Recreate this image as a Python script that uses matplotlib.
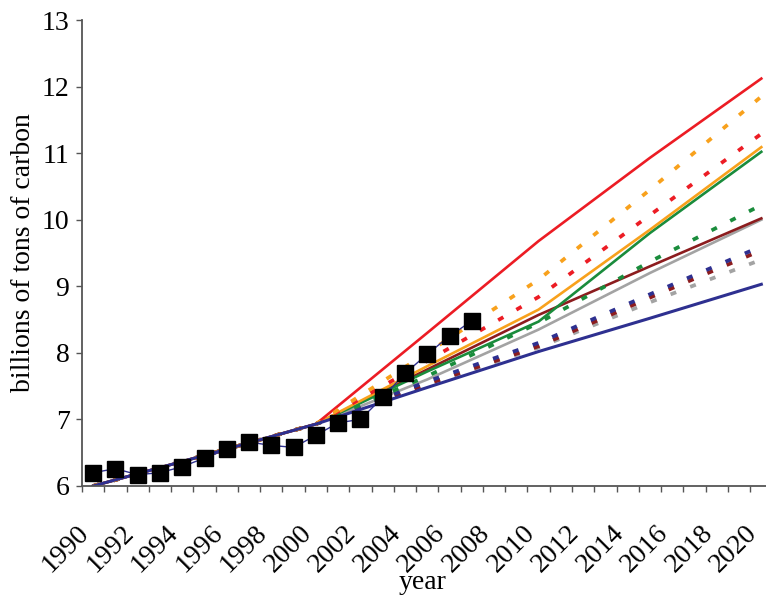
import matplotlib
matplotlib.use("Agg")
import matplotlib.pyplot as plt
import matplotlib.transforms as mtransforms
import numpy as np

# ---- data ----
years = [1990, 1995, 2000, 2005, 2010, 2015, 2020]

red_solid    = [6.00, 6.46, 6.93, 8.30, 9.68, 10.93, 12.12]
orange_solid = [6.00, 6.46, 6.93, 7.80, 8.65, 9.85, 11.09]
green_solid  = [6.00, 6.46, 6.93, 7.72, 8.47, 9.80, 11.02]
gray_solid   = [6.00, 6.46, 6.93, 7.60, 8.35, 9.20, 10.00]
maroon_solid = [6.00, 6.46, 6.93, 7.75, 8.57, 9.30, 10.02]
navy_solid   = [6.00, 6.46, 6.93, 7.48, 8.02, 8.52, 9.03]

orange_dot = [6.00, 6.46, 6.93, 8.00, 9.10, 10.45, 11.85]
red_dot    = [6.00, 6.46, 6.93, 7.88, 8.84, 10.07, 11.29]
green_dot  = [6.00, 6.46, 6.93, 7.65, 8.45, 9.37, 10.22]
maroon_dot = [6.00, 6.46, 6.93, 7.53, 8.10, 8.83, 9.54]
navy_dot   = [6.00, 6.46, 6.93, 7.57, 8.15, 8.88, 9.60]
gray_dot   = [6.00, 6.46, 6.93, 7.52, 8.08, 8.76, 9.40]

obs_years = list(range(1990, 2008))
obs_vals = [6.20, 6.26, 6.17, 6.20, 6.29, 6.42, 6.55, 6.66, 6.61, 6.58, 6.76,
            6.95, 7.00, 7.33, 7.69, 7.98, 8.25, 8.48]

tick_years = list(range(1990, 2021, 2))
y_ticks = [6, 7, 8, 9, 10, 11, 12, 13]

# ---- style ----
plt.rcParams['font.family'] = ['Liberation Serif', 'DejaVu Serif']
RED = '#ec1c24'
ORANGE = '#f8a11c'
GREEN = '#1a8c3c'
GRAY = '#a3a3a3'
MAROON = '#8c1c1e'
NAVY = '#2e3090'
FS = 20

fig = plt.figure(figsize=(7.66, 5.97), dpi=100)
ax = fig.add_axes([82 / 766, 111 / 597, (766 - 82) / 766, (486 - 20) / 597])

lw_s = 1.9
lw_d = 2.7
dot = (0, (1.6, 4.0))

ax.plot(years, gray_solid, color=GRAY, lw=lw_s)
ax.plot(years, maroon_solid, color=MAROON, lw=lw_s)
ax.plot(years, green_solid, color=GREEN, lw=lw_s)
ax.plot(years, orange_solid, color=ORANGE, lw=lw_s)
ax.plot(years, red_solid, color=RED, lw=lw_s)

ax.plot(years, gray_dot, color=GRAY, lw=lw_d, linestyle=dot)
ax.plot(years, maroon_dot, color=MAROON, lw=lw_d, linestyle=dot)
ax.plot(years, navy_dot, color=NAVY, lw=lw_d, linestyle=dot)
ax.plot(years, green_dot, color=GREEN, lw=lw_d, linestyle=dot)
ax.plot(years, red_dot, color=RED, lw=lw_d, linestyle=dot)
ax.plot(years, orange_dot, color=ORANGE, lw=lw_d, linestyle=dot)

ax.plot(years, navy_solid, color=NAVY, lw=lw_s + 0.3)

ax.plot(obs_years, obs_vals, color=NAVY, lw=1.0, marker='s', ms=11,
        mfc='black', mec='black', zorder=5)

ax.set_xlim(1989.5, 2020.21)
ax.set_ylim(6, 13)

for s in ['top', 'right']:
    ax.spines[s].set_visible(False)
for s in ['left', 'bottom']:
    ax.spines[s].set_color('#555555')
    ax.spines[s].set_linewidth(1.3)

ax.set_yticks(y_ticks)
ax.set_yticklabels([str(v) for v in y_ticks], fontsize=FS)
ax.tick_params(axis='y', direction='out', length=4, width=1, color='#555555', pad=5)

ax.set_xticks(tick_years)
ax.tick_params(axis='x', which='major', length=0, labelbottom=False)
ax.set_xticks(np.arange(1989.5, 2020.0, 1.0), minor=True)
ax.tick_params(axis='x', which='minor', direction='out', length=4, width=1, color='#555555')

# x tick labels, rotated, anchored at their top-right corner
lab_trans = ax.get_xaxis_transform() + mtransforms.ScaledTranslation(
    -12 / 72, -25 / 72, fig.dpi_scale_trans)
for yr in tick_years:
    ax.text(yr, 0, str(yr), transform=lab_trans, fontsize=FS, rotation=45,
            ha='right', va='top', rotation_mode='anchor', clip_on=False)

ax.set_ylabel('billions of tons of carbon', fontsize=FS, labelpad=4)
fig.text(423 / 766, (597 - 589) / 597, 'year', fontsize=FS, ha='center', va='baseline')

fig.savefig('out.png', dpi=100)
